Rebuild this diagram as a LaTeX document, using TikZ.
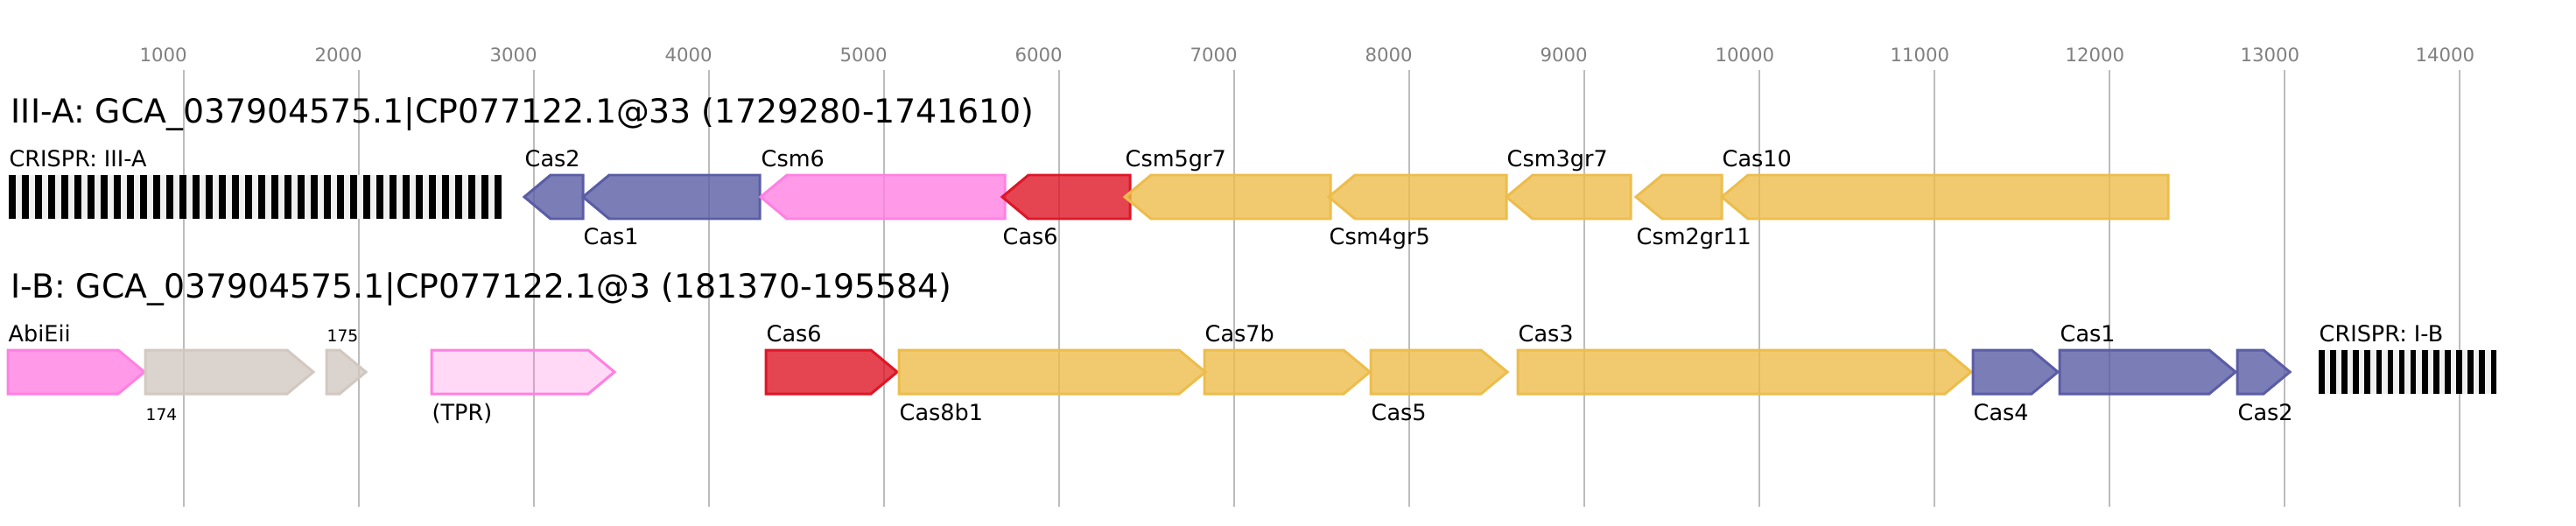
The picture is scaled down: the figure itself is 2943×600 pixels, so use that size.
\documentclass[tikz,border=0pt]{standalone}
\usepackage{fontspec}
\setmainfont{DejaVu Sans}
\usepackage{xcolor}

\definecolor{casblue}{RGB}{90,93,165}
\definecolor{casyellow}{RGB}{237,189,76}
\definecolor{casred}{RGB}{222,22,38}
\definecolor{caspink}{RGB}{255,128,226}
\definecolor{casgray}{RGB}{210,200,192}
\definecolor{arraybg}{RGB}{240,240,240}
\definecolor{gridgray}{RGB}{188,188,188}
\definecolor{tickgray}{RGB}{128,128,128}

\tikzset{
	gene/.style={draw=#1, fill=#1, fill opacity=0.8, line width=0.85pt},
	palegene/.style={draw=#1, fill=#1, fill opacity=0.3, line width=0.85pt},
	genelbl/.style={inner sep=0pt, anchor=base west, font=\fontsize{7.25}{8}\selectfont},
	smalllbl/.style={inner sep=0pt, anchor=base west, font=\fontsize{5.3}{6}\selectfont},
	ticklbl/.style={inner sep=0pt, anchor=base west, text=tickgray, font=\fontsize{6.05}{7}\selectfont},
	titlelbl/.style={inner sep=0pt, anchor=base west, font=\fontsize{10.75}{12}\selectfont}
}

\begin{document}
\begin{tikzpicture}[x=0.01cm, y=-0.01cm]
				\useasboundingbox (0,0) rectangle (2943,600);
				
				% scale
				\foreach \v in {1,...,14}{
					\draw[gridgray, line width=0.45pt] ({9.8+200*\v},80) -- ({9.8+200*\v},579);
					\node[ticklbl] (tick\v) at ({9.8+200*\v-51},70) {\v000};
				}
				
				\node[titlelbl] (titleA) at (12,140) {III-A: GCA\_037904575.1|CP077122.1@33 (1729280-1741610)};
				\node[titlelbl] (titleB) at (12,340) {I-B: GCA\_037904575.1|CP077122.1@3 (181370-195584)};
				
				% CRISPR arrays
				\fill[arraybg] (10,200) rectangle (573,250);
				\foreach \k in {0,...,37}{
					\fill ({10+15*\k},200) rectangle +(7.5,50);
				}
				\node[genelbl] (arrayA) at (10,190) {CRISPR: III-A};
				\fill[arraybg] (2649,400) rectangle (2853,450);
				\foreach \k in {0,...,15}{
					\fill ({2649+13.1*\k},400) rectangle +(6.6,50);
				}
				\node[genelbl] (arrayB) at (2649,390) {CRISPR: I-B};
				
				% III-A (reverse strand)
				\foreach \n/\l/\r/\c/\t/\ly in
				{cas2a/599/666/casblue/Cas2/190, cas1a/666/868/casblue/Cas1/279.5,
				 csm6/869/1148/caspink/Csm6/190, cas6a/1145/1291/casred/Cas6/279.5,
				 csm5/1285/1520/casyellow/Csm5gr7/190, csm4/1518/1721/casyellow/Csm4gr5/279.5,
				 csm3/1721/1863/casyellow/Csm3gr7/190, csm2/1869/1967/casyellow/Csm2gr11/279.5,
				 cas10/1967/2477/casyellow/Cas10/190}{
					\draw[gene=\c] (\l,225) -- ({\l+30},200) -- (\r,200) -- (\r,250) -- ({\l+30},250) -- cycle;
					\node[genelbl] (\n) at (\l,\ly) {\t};
				}
				
				% I-B (forward strand)
				\foreach \n/\l/\r/\c/\t/\ly in
				{abieii/9/165/caspink/AbiEii/390, cas6b/875/1025/casred/Cas6/390,
				 cas8b/1027/1377/casyellow/Cas8b1/480, cas7b/1376/1565/casyellow/Cas7b/390,
				 cas5b/1566/1722/casyellow/Cas5/480, cas3b/1734/2252/casyellow/Cas3/390,
				 cas4b/2254/2351/casblue/Cas4/480, cas1b/2353/2554/casblue/Cas1/390,
				 cas2b/2556/2616/casblue/Cas2/480}{
					\draw[gene=\c] (\l,400) -- ({\r-30},400) -- (\r,425) -- ({\r-30},450) -- (\l,450) -- cycle;
					\node[genelbl] (\n) at (\l,\ly) {\t};
				}
				\foreach \n/\l/\r/\ly in {g174/166/358/480, g175/373/418/390}{
					\draw[gene=casgray] (\l,400) -- ({\r-30},400) -- (\r,425) -- ({\r-30},450) -- (\l,450) -- cycle;
				}
				\node[smalllbl] (l174) at (166,480) {174};
				\node[smalllbl] (l175) at (373,390) {175};
				\draw[palegene=caspink] (493,400) -- (672,400) -- (702,425) -- (672,450) -- (493,450) -- cycle;
				\node[genelbl] (tpr) at (493,480) {(TPR)};
			\end{tikzpicture}
\end{document}
